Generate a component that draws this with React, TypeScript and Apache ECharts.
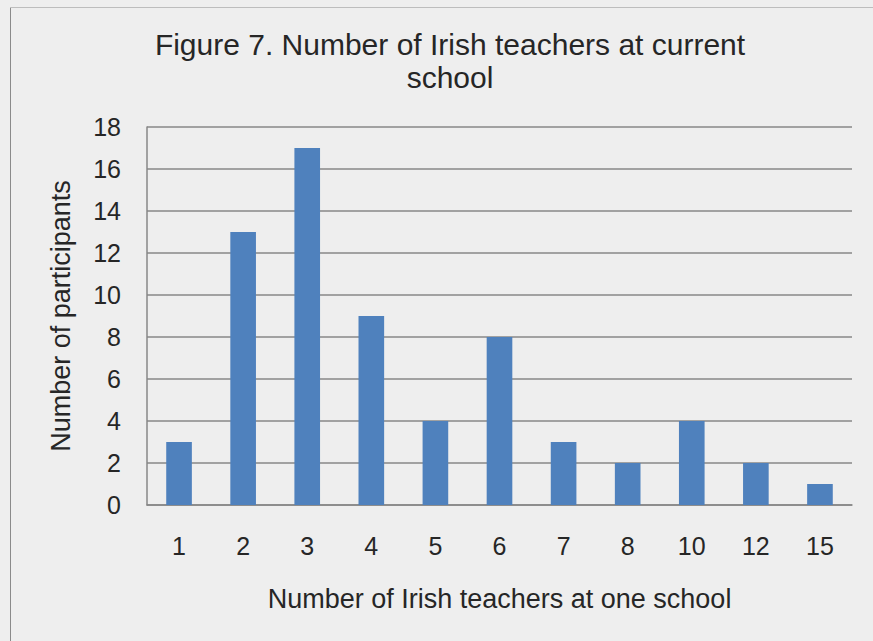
import React, { useEffect, useRef } from "react";
import * as echarts from "echarts";

const categories = ["1", "2", "3", "4", "5", "6", "7", "8", "10", "12", "15"];
const participants = [3, 13, 17, 9, 4, 8, 3, 2, 4, 2, 1];
const titleLines = ["Figure 7. Number of Irish teachers at current", "school"];
const xAxisName = "Number of Irish teachers at one school";
const yAxisName = "Number of participants";

export default function App() {
  const ref = useRef<HTMLDivElement>(null);
  useEffect(() => {
    if (!ref.current) return;
    const chart = echarts.init(ref.current, null, { renderer: "svg" });
    const font = "'Liberation Sans', Arial, sans-serif";
    chart.setOption({
      animation: false,
      backgroundColor: "#eeeeee",
      graphic: [
        {
          type: "line",
          shape: { x1: 10.5, y1: 7, x2: 10.5, y2: 641 },
          style: { stroke: "#8a8a8a", lineWidth: 1 },
          silent: true,
        },
        {
          type: "line",
          shape: { x1: 10, y1: 7.5, x2: 873, y2: 7.5 },
          style: { stroke: "#bdbdbd", lineWidth: 1 },
          silent: true,
        },
      ],
      title: {
        text: titleLines.join("\n"),
        left: 445,
        top: 23,
        textAlign: "center",
        textStyle: {
          fontFamily: font,
          fontSize: 30,
          fontWeight: "normal",
          color: "#262626",
          lineHeight: 33,
        },
      },
      grid: { left: 147, right: 21, top: 127, bottom: 136, containLabel: false },
      xAxis: {
        type: "category",
        data: categories,
        name: xAxisName,
        nameLocation: "middle",
        nameGap: 80,
        nameTextStyle: { fontFamily: font, fontSize: 27, color: "#262626" },
        axisLine: { lineStyle: { color: "#878787", width: 1.5 } },
        axisTick: { show: false },
        axisLabel: { fontFamily: font, fontSize: 25, color: "#262626", margin: 28 },
      },
      yAxis: {
        type: "value",
        min: 0,
        max: 18,
        interval: 2,
        name: yAxisName,
        nameLocation: "middle",
        nameGap: 73,
        nameTextStyle: { fontFamily: font, fontSize: 27, color: "#262626" },
        axisLine: { show: true, lineStyle: { color: "#878787", width: 1.5 } },
        axisTick: { show: false },
        axisLabel: { fontFamily: font, fontSize: 25, color: "#262626", margin: 26 },
        splitLine: { lineStyle: { color: "#878787", width: 1.5 } },
      },
      series: [
        {
          type: "bar",
          data: participants,
          barWidth: "40%",
          itemStyle: { color: "#4f81bd" },
        },
      ],
    });
    return () => chart.dispose();
  }, []);
  return (
    <div
      ref={ref}
      style={{ position: "absolute", left: 0, top: 0, width: 873, height: 641 }}
    />
  );
}
